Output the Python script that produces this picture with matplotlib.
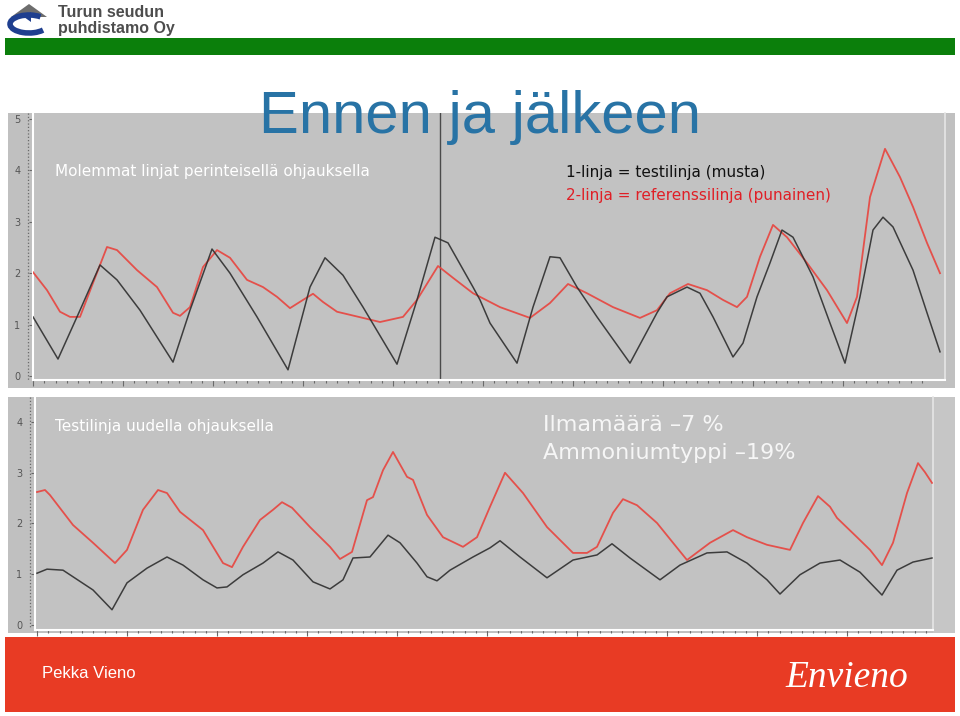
import matplotlib
matplotlib.use("Agg")
import matplotlib.pyplot as plt
from matplotlib.patches import Rectangle, Polygon, Arc
from matplotlib.lines import Line2D
import numpy as np

# ---------------- data ----------------
# Top chart: "Molemmat linjat perinteisellä ohjauksella"
top_black_t = [0, 25, 47, 67, 84, 107, 140, 157, 179, 197, 224, 255, 277, 292, 310, 330,
               364, 384, 402, 415, 440, 447, 457, 484, 500, 517, 527, 544, 564, 597, 624,
               634, 654, 667, 680, 700, 710, 724, 737, 749, 760, 780, 797, 812, 827, 840,
               850, 860, 880, 894, 907]
top_black_v = [1.15, 0.33, 1.28, 2.16, 1.87, 1.28, 0.27, 1.28, 2.47, 2.00, 1.15, 0.12, 1.73,
               2.30, 1.96, 1.34, 0.23, 1.48, 2.70, 2.59, 1.73, 1.48, 1.03, 0.25, 1.34, 2.32,
               2.30, 1.73, 1.15, 0.25, 1.23, 1.54, 1.73, 1.61, 1.15, 0.37, 0.64, 1.54, 2.20,
               2.84, 2.70, 1.93, 1.03, 0.25, 1.54, 2.84, 3.09, 2.90, 2.06, 1.23, 0.47]

top_red_t = [0, 14, 27, 37, 47, 60, 74, 84, 104, 124, 140, 147, 157, 170, 184, 197, 214,
             230, 244, 257, 270, 280, 290, 304, 330, 347, 370, 384, 405, 420, 440, 457,
             467, 497, 517, 535, 554, 580, 607, 624, 637, 655, 674, 690, 704, 714, 727,
             740, 754, 774, 794, 814, 824, 837, 852, 867, 880, 894, 907]
top_red_v = [2.02, 1.67, 1.25, 1.15, 1.15, 1.81, 2.51, 2.45, 2.06, 1.73, 1.23, 1.17, 1.34,
             2.12, 2.45, 2.30, 1.87, 1.73, 1.54, 1.32, 1.48, 1.60, 1.44, 1.25, 1.13, 1.05,
             1.15, 1.48, 2.14, 1.91, 1.61, 1.44, 1.34, 1.13, 1.42, 1.79, 1.61, 1.34, 1.13,
             1.28, 1.61, 1.79, 1.67, 1.48, 1.34, 1.54, 2.32, 2.94, 2.70, 2.20, 1.67, 1.03,
             1.54, 3.48, 4.42, 3.87, 3.29, 2.59, 2.00]
top_marker_t = 407

# Bottom chart: "Testilinja uudella ohjauksella"
bot_red_t = [0, 8, 13, 36, 56, 78, 90, 106, 121, 130, 143, 166, 186, 195, 206, 223, 236,
             245, 255, 273, 293, 303, 315, 330, 336, 346, 356, 370, 376, 390, 406, 426,
             440, 453, 468, 486, 510, 536, 550, 560, 576, 586, 600, 620, 636, 650, 673,
             696, 710, 730, 753, 766, 781, 793, 800, 820, 833, 845, 856, 870, 881, 888, 895]
bot_red_v = [2.62, 2.66, 2.56, 1.97, 1.62, 1.22, 1.48, 2.27, 2.66, 2.60, 2.23, 1.87, 1.22,
             1.14, 1.54, 2.07, 2.27, 2.42, 2.31, 1.93, 1.54, 1.30, 1.44, 2.46, 2.52, 3.05,
             3.41, 2.92, 2.86, 2.17, 1.73, 1.54, 1.73, 2.33, 3.00, 2.60, 1.93, 1.42, 1.42,
             1.54, 2.21, 2.48, 2.36, 2.01, 1.62, 1.28, 1.62, 1.87, 1.73, 1.58, 1.48, 2.01,
             2.54, 2.33, 2.11, 1.73, 1.48, 1.18, 1.62, 2.60, 3.19, 3.01, 2.80]

bot_black_t = [0, 10, 26, 36, 56, 75, 90, 110, 130, 146, 166, 180, 190, 206, 226, 241, 256,
               276, 293, 306, 316, 333, 351, 363, 380, 390, 400, 413, 436, 453, 463, 483,
               510, 536, 560, 575, 593, 623, 643, 670, 690, 710, 730, 743, 763, 783, 803,
               823, 845, 860, 876, 895]
bot_black_v = [1.02, 1.10, 1.08, 0.95, 0.69, 0.30, 0.83, 1.12, 1.34, 1.18, 0.89, 0.73, 0.75,
               0.99, 1.22, 1.44, 1.28, 0.85, 0.71, 0.89, 1.32, 1.34, 1.77, 1.62, 1.22, 0.95,
               0.87, 1.08, 1.34, 1.52, 1.66, 1.34, 0.93, 1.28, 1.38, 1.60, 1.32, 0.89, 1.18,
               1.42, 1.44, 1.22, 0.89, 0.61, 0.99, 1.22, 1.28, 1.04, 0.59, 1.08, 1.24, 1.32]

top_yticks = [0, 1, 2, 3, 4, 5]
bot_yticks = [0, 1, 2, 3, 4]

title = "Ennen ja jälkeen"
top_note = "Molemmat linjat perinteisellä ohjauksella"
legend1 = "1-linja = testilinja (musta)"
legend2 = "2-linja = referenssilinja (punainen)"
bot_note = "Testilinja uudella ohjauksella"
bot_result1 = "Ilmamäärä –7 %"
bot_result2 = "Ammoniumtyppi –19%"
author = "Pekka Vieno"
brand = "Envieno"
logo_line1 = "Turun seudun"
logo_line2 = "puhdistamo Oy"

# ---------------- layout helpers ----------------
W, H = 960, 716
fig = plt.figure(figsize=(W / 100, H / 100), dpi=100)
fig.patch.set_facecolor("white")


def fx(x):
    return x / W


def fy(y):
    return 1 - y / H


def rect(x0, y0, x1, y1, color, z=-5):
    fig.patches.append(Rectangle((fx(x0), fy(y1)), (x1 - x0) / W, (y1 - y0) / H,
                                 transform=fig.transFigure, facecolor=color,
                                 edgecolor="none", zorder=z))


def vline(x, y0, y1, color, lw=1, ls="-", z=20):
    fig.lines.append(Line2D([fx(x), fx(x)], [fy(y0), fy(y1)], transform=fig.transFigure,
                            color=color, lw=lw, ls=ls, zorder=z))


def txt(x, y, s, **kw):
    kw.setdefault("zorder", 30)
    return fig.text(fx(x), fy(y), s, **kw)


GRAY = "#c0c0c0"

# header
rect(5, 38, 955, 55, "#0b7f0b")
# logo
fig.patches.append(Polygon([(fx(11), fy(17)), (fx(29), fy(4)), (fx(47), fy(17))],
                           closed=True, transform=fig.transFigure, facecolor="#6d6d6d",
                           edgecolor="none", zorder=5))
fig.patches.append(Arc((fx(29), fy(24)), 38 / W, 18 / H, theta1=40, theta2=330,
                       transform=fig.transFigure, color="#1f3f8f", lw=4, zorder=5))
fig.patches.append(Polygon([(fx(24), fy(17)), (fx(31), fy(22)), (fx(31), fy(12))],
                           closed=True, transform=fig.transFigure, facecolor="#1f3f8f",
                           edgecolor="none", zorder=5))
txt(58, 17, logo_line1, fontsize=11.5, fontweight="bold", color="#4d4d4d",
    family="Liberation Sans", va="baseline", ha="left")
txt(58, 33, logo_line2, fontsize=11.5, fontweight="bold", color="#4d4d4d",
    family="Liberation Sans", va="baseline", ha="left")

# panels
rect(8, 113, 955, 388, GRAY)
rect(8, 397, 955, 633, GRAY)
rect(933, 397, 955, 633, "#c6c6c6")
rect(5, 637, 955, 712, "#e83b24")

# ---------------- top chart ----------------
axt = fig.add_axes([fx(33), fy(380), 912 / W, 267 / H])
axt.set_facecolor("#c2c2c2")
axt.plot(top_red_t, top_red_v, color="#e8443e", lw=1.3, alpha=0.9, zorder=3)
axt.plot(top_black_t, top_black_v, color="#2e2e2e", lw=1.1, alpha=0.9, zorder=4)
axt.axvline(top_marker_t, color="#4a4a4a", lw=1.0, zorder=2)
axt.set_xlim(0, 912)
axt.set_ylim(-0.078, 5.117)

# ---------------- bottom chart ----------------
axb = fig.add_axes([fx(35), fy(630), 898 / W, 233 / H])
axb.set_facecolor("#c2c2c2")
axb.plot(bot_red_t, bot_red_v, color="#e8443e", lw=1.3, alpha=0.9, zorder=3)
axb.plot(bot_black_t, bot_black_v, color="#2e2e2e", lw=1.1, alpha=0.9, zorder=4)
axb.set_xlim(-2, 896)
axb.set_ylim(-0.099, 4.493)

for ax, yt in ((axt, top_yticks), (axb, bot_yticks)):
    ax.set_zorder(10)
    ax.set_yticks(yt)
    ax.set_yticklabels([str(v) for v in yt])
    ax.tick_params(axis="y", length=3, width=0.8, color="#666666", labelsize=7,
                   labelcolor="#555555", pad=6)
    ax.set_xticks(np.arange(0, 900, 90))
    ax.set_xticks(np.arange(0, 900, 11.25), minor=True)
    ax.tick_params(axis="x", which="both", direction="out", length=2, width=0.8,
                   color="#6a6a6a", labelbottom=False)
    ax.tick_params(axis="x", which="major", length=4)
    ax.spines["top"].set_visible(False)
    ax.spines["left"].set_color("white")
    ax.spines["left"].set_linewidth(1.5)
    ax.spines["bottom"].set_color("white")
    ax.spines["bottom"].set_linewidth(1.5)
    ax.spines["right"].set_color("#e6e6e6")
    ax.spines["right"].set_linewidth(1.2)

vline(28, 113, 380, "#6a6a6a", lw=0.9, ls=":")
vline(30, 397, 628, "#6a6a6a", lw=0.9, ls=":")

# ---------------- texts ----------------
txt(480, 133, title, fontsize=43, color="#2873a5",
    family="Liberation Sans", ha="center", va="baseline")
txt(55, 176, top_note, fontsize=11, color="white", family="DejaVu Sans",
    ha="left", va="baseline")
txt(566, 177, legend1, fontsize=11, color="#111111", family="DejaVu Sans",
    ha="left", va="baseline")
txt(566, 200, legend2, fontsize=11, color="#e01f26", family="DejaVu Sans",
    ha="left", va="baseline")
txt(55, 431, bot_note, fontsize=11, color="white", family="DejaVu Sans",
    ha="left", va="baseline")
txt(543, 431, bot_result1, fontsize=16, color="#f6f6f6", family="DejaVu Sans",
    ha="left", va="baseline")
txt(543, 459, bot_result2, fontsize=16, color="#f6f6f6", family="DejaVu Sans",
    ha="left", va="baseline")
txt(42, 673, author, fontsize=12, color="white", family="Liberation Sans",
    ha="left", va="center")
txt(785, 678, brand, fontsize=27, color="white", family="Liberation Serif",
    style="italic", ha="left", va="center")

fig.savefig("out.png", dpi=100)
